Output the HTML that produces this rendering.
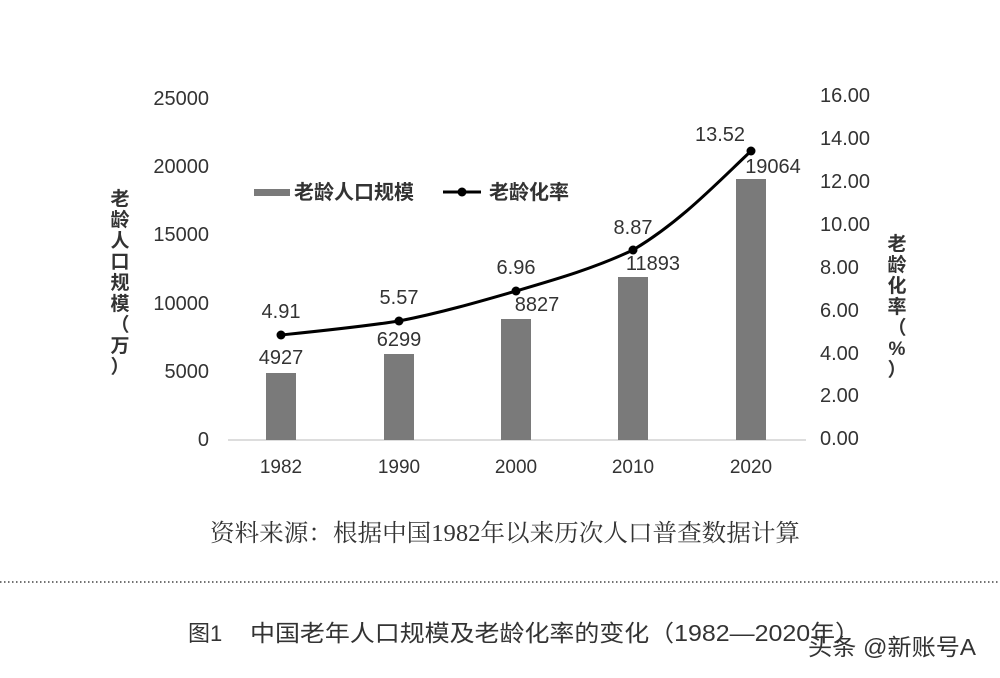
<!DOCTYPE html>
<html><head><meta charset="utf-8"><style>
html,body{margin:0;padding:0;background:#fff;width:1000px;height:678px;overflow:hidden}
svg{display:block}
text{font-family:"Liberation Sans","Noto Sans CJK SC",sans-serif;fill:#333}
</style></head><body>
<svg width="1000" height="678" viewBox="0 0 1000 678">
<g font-size="20" text-anchor="end">
<text x="209" y="105">25000</text>
<text x="209" y="173">20000</text>
<text x="209" y="241">15000</text>
<text x="209" y="310">10000</text>
<text x="209" y="378">5000</text>
<text x="209" y="446">0</text>
</g>
<g font-size="20" text-anchor="start">
<text x="820" y="102">16.00</text>
<text x="820" y="145">14.00</text>
<text x="820" y="188">12.00</text>
<text x="820" y="231">10.00</text>
<text x="820" y="274">8.00</text>
<text x="820" y="317">6.00</text>
<text x="820" y="360">4.00</text>
<text x="820" y="402">2.00</text>
<text x="820" y="445">0.00</text>
</g>
<g font-size="19" font-weight="bold" text-anchor="middle">
<text x="120" y="205">老</text><text x="120" y="226">龄</text><text x="120" y="247">人</text><text x="120" y="268">口</text><text x="120" y="289">规</text><text x="120" y="310">模</text><text x="120" y="331">（</text><text x="120" y="352">万</text><text x="120" y="373">）</text>
<text x="897" y="250">老</text><text x="897" y="271">龄</text><text x="897" y="292">化</text><text x="897" y="313">率</text><text x="897" y="334">（</text><text x="897" y="355">%</text><text x="897" y="376">）</text>
</g>
<line x1="228" y1="440" x2="806" y2="440" stroke="#bbb" stroke-width="1"/>
<g fill="#7a7a7a">
<rect x="266" y="373" width="30" height="67"/>
<rect x="384" y="354" width="30" height="86"/>
<rect x="501" y="319" width="30" height="121"/>
<rect x="618" y="277" width="30" height="163"/>
<rect x="736" y="179" width="30" height="261"/>
</g>
<path d="M281,335 C320,331 360,327 399,321 C440,313 478,302 516,291 C557,279 595,268 633,250 C680,222 715,185 751,151" fill="none" stroke="#000" stroke-width="3"/>
<g fill="#000"><circle cx="281" cy="335" r="4.5"/><circle cx="399" cy="321" r="4.5"/><circle cx="516" cy="291" r="4.5"/><circle cx="633" cy="250" r="4.5"/><circle cx="751" cy="151" r="4.5"/></g>
<g font-size="20" text-anchor="middle">
<text x="281" y="318">4.91</text><text x="399" y="304">5.57</text><text x="516" y="274">6.96</text><text x="633" y="234">8.87</text><text x="720" y="141">13.52</text>
<text x="281" y="364">4927</text><text x="399" y="346">6299</text><text x="537" y="311">8827</text><text x="653" y="270">11893</text><text x="773" y="173">19064</text>
</g>
<rect x="254" y="189" width="36" height="7" fill="#7a7a7a"/>
<text x="294" y="199" font-size="20" font-weight="bold">老龄人口规模</text>
<line x1="443" y1="192" x2="481" y2="192" stroke="#000" stroke-width="3"/><circle cx="462" cy="192" r="4.5" fill="#000"/>
<text x="489" y="199" font-size="20" font-weight="bold">老龄化率</text>
<g font-size="19" text-anchor="middle">
<text x="281" y="473">1982</text><text x="399" y="473">1990</text><text x="516" y="473">2000</text><text x="633" y="473">2010</text><text x="751" y="473">2020</text>
</g>
<text x="210" y="541" font-size="24" textLength="590" lengthAdjust="spacingAndGlyphs" style="font-family:'Liberation Serif','Noto Serif CJK SC',serif">资料来源：根据中国1982年以来历次人口普查数据计算</text>
<line x1="0" y1="582" x2="1000" y2="582" stroke="#444" stroke-width="1.5" stroke-dasharray="1.5,2.5"/>
<text x="188" y="641" font-size="22">图1</text>
<text x="250" y="641" font-size="23" textLength="610" lengthAdjust="spacingAndGlyphs">中国老年人口规模及老龄化率的变化（1982—2020年）</text>
<text x="808" y="655" font-size="23" fill="#222" textLength="168" lengthAdjust="spacingAndGlyphs">头条 @新账号A</text>
</svg>
</body></html>
